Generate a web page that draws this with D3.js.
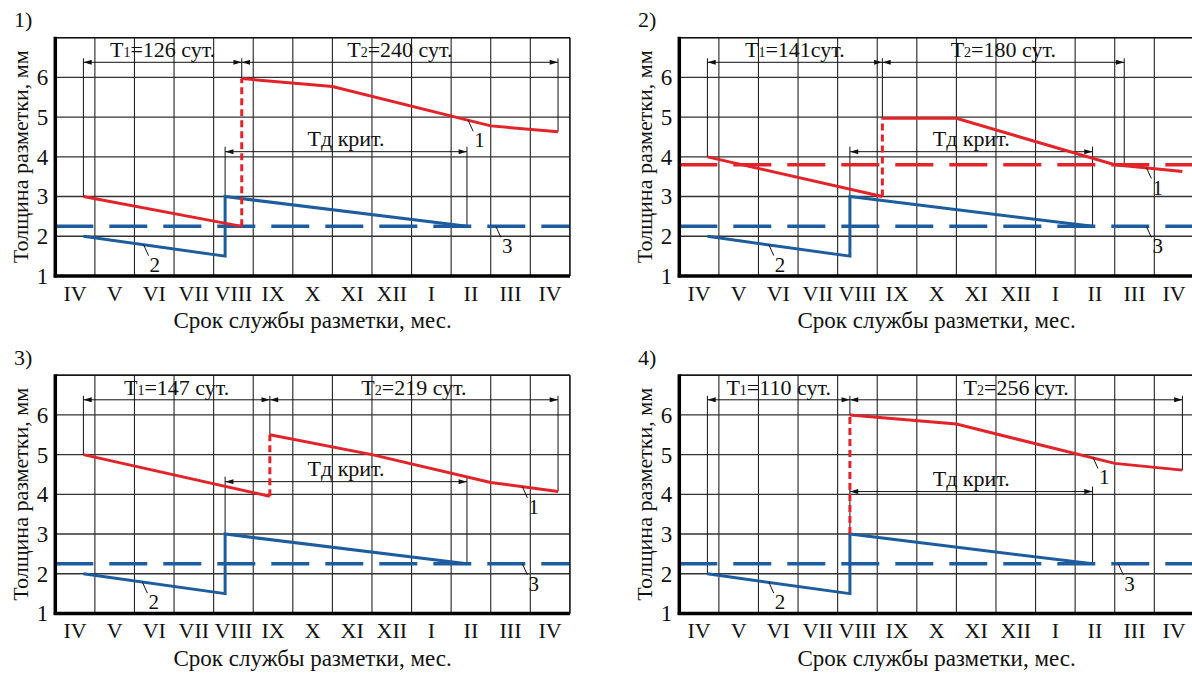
<!DOCTYPE html>
<html>
<head>
<meta charset="utf-8">
<script src="https://cdn.jsdelivr.net/npm/d3@7"></script>
<style>
  body { margin: 0; background: #fff; }
  text { font-family: "Liberation Serif", "Tinos", "DejaVu Serif", serif; fill: #111; }
</style>
</head>
<body>
<svg id="chart"></svg>
<script>
const WIDTH = 1192;
const HEIGHT = 673;
const FONT = "'Liberation Serif', 'Tinos', 'DejaVu Serif', serif";

// month columns, thickness ticks, panel captions
const months = ["IV", "V", "VI", "VII", "VIII", "IX", "X", "XI", "XII", "I", "II", "III", "IV"];
const yTicks = [1, 2, 3, 4, 5, 6];
const panelNames = ["1)", "2)", "3)", "4)"];

// x is measured in month columns from the left edge (0..13), y in mm
const redBefore = [
  [[0.71, 3.0], [4.71, 2.25]],
  [[0.71, 4.0], [5.13, 3.0]],
  [[0.71, 5.0], [5.42, 3.95]],
  []
];
const redJump = [[4.71, 2.25, 5.97], [5.13, 3.0, 4.97], [5.42, 3.95, 5.5], [4.31, 3.0, 6.0]];
const redAfter = [
  [[4.71, 5.97], [7.0, 5.77], [11.0, 4.78], [12.7, 4.63]],
  [[5.13, 4.97], [7.0, 4.97], [11.0, 3.8], [12.71, 3.63]],
  [[5.42, 5.5], [8.0, 5.0], [11.0, 4.3], [12.7, 4.07]],
  [[4.31, 6.0], [7.0, 5.77], [11.0, 4.78], [12.71, 4.61]]
];
const blueLine = [
  [[0.71, 2.0], [4.29, 1.5], [4.29, 3.0], [10.4, 2.25]],
  [[0.71, 2.0], [4.31, 1.5], [4.31, 3.0], [10.44, 2.25]],
  [[0.71, 2.0], [4.29, 1.5], [4.29, 3.0], [10.4, 2.25]],
  [[0.71, 2.0], [4.31, 1.5], [4.31, 3.0], [10.44, 2.25]]
];
const blueLimit = [2.25, 2.25, 2.25, 2.25];
const redLimit = [null, 3.8, null, null];

// T1 / T2 dimension marks and where their extension lines stop
const t1Days = ["126 сут.", "141сут.", "147 сут.", "110 сут."];
const t2Days = ["240 сут.", "180 сут.", "219 сут.", "256 сут."];
const tMarks = [[0.71, 4.71, 12.7], [0.71, 5.13, 11.24], [0.71, 5.42, 12.7], [0.71, 4.31, 12.71]];
const tEnds = [[3.0, 5.97, 4.63], [4.0, 4.97, 3.8], [5.0, 5.5, 4.07], [2.0, 6.0, 4.61]];
const tdMarks = [[4.29, 10.4], [4.31, 10.44], [4.29, 10.4], [4.31, 10.44]];
const tdLevel = [4.13, 4.13, 4.32, 4.07];
const tdEnds = [3.0, 2.25];

// curve number callouts
const label1 = [[10.43, 4.92], [11.8, 3.73], [11.8, 4.19], [10.45, 4.93]];
const label2 = [[2.23, 1.79], [2.26, 1.79], [2.2, 1.79], [2.26, 1.79]];
const label3 = [[11.13, 2.25], [11.8, 2.25], [11.8, 2.25], [11.09, 2.25]];

const RED = "#e2232a";
const BLUE = "#1d5c9e";
const offsets = [[0, 0], [624, 0], [0, 337.5], [624, 337.5]];

const svg = d3.select("#chart").attr("width", WIDTH).attr("height", HEIGHT);

svg.append("defs").append("marker")
  .attr("id", "arr")
  .attr("viewBox", "0 0 10 6")
  .attr("refX", 10).attr("refY", 3)
  .attr("markerWidth", 9).attr("markerHeight", 5)
  .attr("markerUnits", "userSpaceOnUse")
  .attr("orient", "auto-start-reverse")
  .append("path").attr("d", "M0,0L10,3L0,6Z").attr("fill", "#111");

const x = d3.scaleLinear().domain([0, 13]).range([55.3, 569.9]);
const y = d3.scaleLinear().domain([1, 7]).range([276, 37.7]);
const band = d3.scaleBand().domain(d3.range(months.length)).range(x.range());
const line = d3.line().x(d => x(d[0])).y(d => y(d[1]));

panelNames.forEach((name, p) => {
  const g = svg.append("g")
    .attr("transform", `translate(${offsets[p][0]},${offsets[p][1]})`)
    .attr("font-family", FONT);

  // grid
  g.append("g").selectAll("line").data(d3.range(1, 14)).enter().append("line")
    .attr("x1", d => x(d)).attr("x2", d => x(d))
    .attr("y1", y(7)).attr("y2", y(1))
    .attr("stroke", "#222").attr("stroke-width", 1.1);
  g.append("g").selectAll("line").data(d3.range(2, 8)).enter().append("line")
    .attr("x1", x(0)).attr("x2", x(13))
    .attr("y1", d => y(d)).attr("y2", d => y(d))
    .attr("stroke", "#333").attr("stroke-width", 1.4);

  // dimension lines
  const dim = g.append("g").attr("stroke", "#111").attr("stroke-width", 1);
  const dimY = 62.3;
  tMarks[p].forEach((m, i) => {
    dim.append("line").attr("x1", x(m)).attr("x2", x(m))
      .attr("y1", dimY - 4).attr("y2", y(tEnds[p][i]));
  });
  dim.append("line").attr("x1", x(tMarks[p][0])).attr("x2", x(tMarks[p][1]))
    .attr("y1", dimY).attr("y2", dimY)
    .attr("marker-start", "url(#arr)").attr("marker-end", "url(#arr)");
  dim.append("line").attr("x1", x(tMarks[p][1])).attr("x2", x(tMarks[p][2]))
    .attr("y1", dimY).attr("y2", dimY)
    .attr("marker-start", "url(#arr)").attr("marker-end", "url(#arr)");
  const tdY = y(tdLevel[p]);
  tdMarks[p].forEach((m, i) => {
    dim.append("line").attr("x1", x(m)).attr("x2", x(m))
      .attr("y1", tdY - 5).attr("y2", y(tdEnds[i]));
  });
  dim.append("line").attr("x1", x(tdMarks[p][0])).attr("x2", x(tdMarks[p][1]))
    .attr("y1", tdY).attr("y2", tdY)
    .attr("marker-start", "url(#arr)").attr("marker-end", "url(#arr)");

  const t1 = g.append("text")
    .attr("x", x((tMarks[p][0] + tMarks[p][1]) / 2)).attr("y", dimY - 5)
    .attr("text-anchor", "middle").style("font-size", "22px");
  t1.append("tspan").text("T");
  t1.append("tspan").text("1").style("font-size", "14px");
  t1.append("tspan").text("=" + t1Days[p]);
  const t2 = g.append("text")
    .attr("x", x((tMarks[p][1] + tMarks[p][2]) / 2)).attr("y", dimY - 5)
    .attr("text-anchor", "middle").style("font-size", "22px");
  t2.append("tspan").text("T");
  t2.append("tspan").text("2").style("font-size", "14px");
  t2.append("tspan").text("=" + t2Days[p]);
  g.append("text")
    .attr("x", x((tdMarks[p][0] + tdMarks[p][1]) / 2)).attr("y", tdY - 5.5)
    .attr("text-anchor", "middle").style("font-size", "22px")
    .text("Тд крит.");

  // limit lines
  g.append("line").attr("x1", x(0)).attr("x2", x(13))
    .attr("y1", y(blueLimit[p])).attr("y2", y(blueLimit[p]))
    .attr("stroke", BLUE).attr("stroke-width", 3.5).attr("stroke-dasharray", "38,16");
  if (redLimit[p] !== null) {
    g.append("line").attr("x1", x(0)).attr("x2", x(13))
      .attr("y1", y(redLimit[p])).attr("y2", y(redLimit[p]))
      .attr("stroke", RED).attr("stroke-width", 3.5).attr("stroke-dasharray", "38,16");
  }

  // series
  g.append("path").datum(blueLine[p]).attr("d", line)
    .attr("fill", "none").attr("stroke", BLUE).attr("stroke-width", 3);
  if (redBefore[p].length) {
    g.append("path").datum(redBefore[p]).attr("d", line)
      .attr("fill", "none").attr("stroke", RED).attr("stroke-width", 3);
  }
  const j = redJump[p];
  g.append("line").attr("x1", x(j[0])).attr("x2", x(j[0]))
    .attr("y1", y(j[1])).attr("y2", y(j[2]))
    .attr("stroke", RED).attr("stroke-width", 3).attr("stroke-dasharray", "7,4");
  g.append("path").datum(redAfter[p]).attr("d", line)
    .attr("fill", "none").attr("stroke", RED).attr("stroke-width", 3);

  // callouts
  [[label1[p], "1"], [label2[p], "2"], [label3[p], "3"]].forEach(([pt, t]) => {
    const px = x(pt[0]), py = y(pt[1]);
    g.append("line").attr("x1", px).attr("x2", px + 5)
      .attr("y1", py).attr("y2", py + 11)
      .attr("stroke", "#111").attr("stroke-width", 1);
    g.append("text").attr("x", px + 6).attr("y", py + 27)
      .style("font-size", "21px").text(t);
  });

  // frame
  g.append("line").attr("x1", x(0)).attr("x2", x(13)).attr("y1", y(7)).attr("y2", y(7))
    .attr("stroke", "#111").attr("stroke-width", 1.2);
  g.append("line").attr("x1", x(13)).attr("x2", x(13)).attr("y1", y(7)).attr("y2", y(1))
    .attr("stroke", "#111").attr("stroke-width", 1.2);

  // axes
  const ax = g.append("g").attr("transform", `translate(0,${y(1)})`)
    .call(d3.axisBottom(band).tickSize(0).tickPadding(9).tickFormat(i => months[i]));
  ax.attr("font-family", FONT).attr("font-size", 22);
  ax.select(".domain").remove();
  ax.selectAll("text").attr("fill", "#111");

  const ay = g.append("g").attr("transform", `translate(${x(0)},0)`)
    .call(d3.axisLeft(y).tickValues(yTicks).tickSize(0).tickPadding(7).tickFormat(d3.format("d")));
  ay.attr("font-family", FONT).attr("font-size", 23);
  ay.select(".domain").remove();
  ay.selectAll("text").attr("fill", "#111");

  g.append("line").attr("x1", x(0)).attr("x2", x(0)).attr("y1", y(7) - 1).attr("y2", y(1) + 1.5)
    .attr("stroke", "#000").attr("stroke-width", 3.5);
  g.append("line").attr("x1", x(0) - 1.5).attr("x2", x(13)).attr("y1", y(1)).attr("y2", y(1))
    .attr("stroke", "#000").attr("stroke-width", 3.5);

  // titles
  g.append("text").attr("transform", `translate(28,${(y(1) + y(7)) / 2}) rotate(-90)`)
    .attr("text-anchor", "middle").style("font-size", "22px")
    .text("Толщина разметки, мм");
  g.append("text").attr("x", (x(0) + x(13)) / 2).attr("y", 328)
    .attr("text-anchor", "middle").style("font-size", "23px")
    .text("Срок службы разметки, мес.");
  g.append("text").attr("x", 14).attr("y", 27).style("font-size", "22px").text(name);
});
</script>
</body>
</html>
